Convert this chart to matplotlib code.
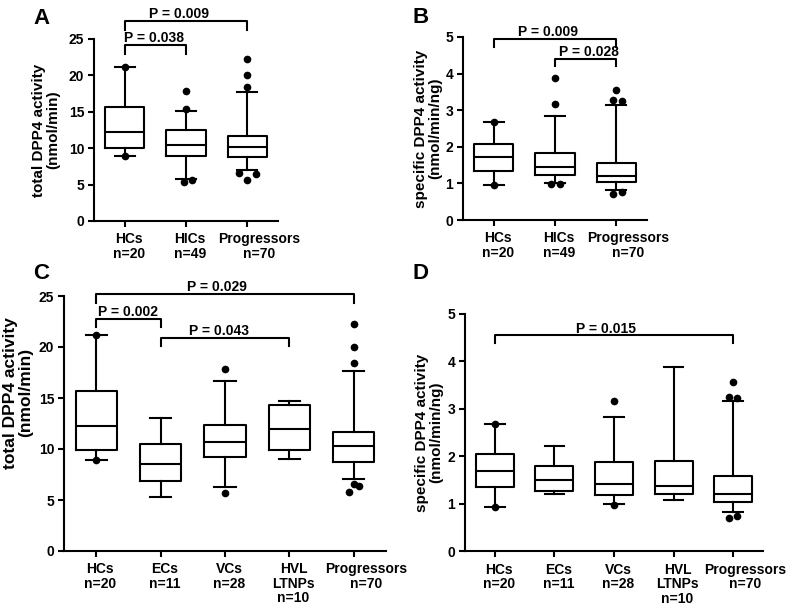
import numpy as np
import matplotlib
matplotlib.use("Agg")
import matplotlib.pyplot as plt
from matplotlib.transforms import ScaledTranslation

plt.rcParams['font.family'] = ['Liberation Sans', 'DejaVu Sans']
plt.rcParams['font.weight'] = 'bold'

# Panel A - total DPP4 activity, 3 groups
names_A = ['HCs\nn=20', 'HICs\nn=49', 'Progressors\nn=70']
q1_A = [9.98, 8.9, 8.85]
med_A = [12.2, 10.5, 10.2]
q3_A = [15.6, 12.5, 11.7]
lo_A = [8.97, 5.8, 7.0]
hi_A = [21.2, 15.1, 17.7]
fliers_A = [[21.2, 8.97], [17.8, 15.4, 5.4, 5.6], [22.3, 20.1, 18.45, 6.6, 6.4, 5.7]]
dodge_A = [[0, 0], [0, 0, -0.04, 0.1], [0, 0, 0, -0.14, 0.14, 0]]

# Panel B - specific DPP4 activity, 3 groups
names_B = ['HCs\nn=20', 'HICs\nn=49', 'Progressors\nn=70']
q1_B = [1.35, 1.23, 1.03]
med_B = [1.72, 1.46, 1.21]
q3_B = [2.07, 1.82, 1.57]
lo_B = [0.96, 1.02, 0.81]
hi_B = [2.67, 2.84, 3.15]
fliers_B = [[2.68, 0.95], [3.88, 3.17, 0.98, 0.98], [3.56, 3.27, 3.26, 0.71, 0.76]]
dodge_B = [[0, 0], [0, 0, -0.06, 0.08], [0, -0.06, 0.09, -0.06, 0.09]]

# Panel C - total DPP4 activity, 5 groups
names_C = ['HCs\nn=20', 'ECs\nn=11', 'VCs\nn=28', 'HVL\nLTNPs\nn=10', 'Progressors\nn=70']
q1_C = [9.9, 6.9, 9.25, 9.87, 8.75]
med_C = [12.25, 8.5, 10.66, 12.0, 10.26]
q3_C = [15.7, 10.5, 12.4, 14.3, 11.7]
lo_C = [8.9, 5.3, 6.3, 9.0, 7.03]
hi_C = [21.2, 13.04, 16.7, 14.7, 17.65]
fliers_C = [[21.2, 8.9], [], [17.8, 5.65], [], [22.25, 20.0, 18.4, 6.6, 6.37, 5.75]]
dodge_C = [[0, 0], [], [0, 0], [], [0, 0, 0, 0, 0.08, -0.07]]

# Panel D - specific DPP4 activity, 5 groups
names_D = names_C
q1_D = [1.35, 1.27, 1.18, 1.20, 1.04]
med_D = [1.70, 1.51, 1.42, 1.37, 1.21]
q3_D = [2.06, 1.79, 1.88, 1.90, 1.58]
lo_D = [0.94, 1.20, 0.99, 1.09, 0.83]
hi_D = [2.69, 2.23, 2.84, 3.88, 3.16]
fliers_D = [[2.69, 0.94], [], [3.16, 0.97], [], [3.56, 3.26, 3.23, 0.70, 0.75]]
dodge_D = [[0, 0], [], [0, 0], [], [0, -0.07, 0.07, -0.07, 0.07]]

# brackets: (from, to, bar height, tip height, text, text x)
brackets_A = [(1, 3, 27.5, 26.3, 'P = 0.009', 1.88), (1, 2, 24.2, 23.0, 'P = 0.038', 1.48)]
brackets_B = [(1, 3, 4.95, 4.74, 'P = 0.009', 1.88), (2, 3, 4.40, 4.20, 'P = 0.028', 2.55)]
brackets_C = [(1, 5, 25.2, 24.35, 'P = 0.029', 2.88), (1, 2, 22.75, 22.0, 'P = 0.002', 1.5),
              (2, 4, 20.9, 20.1, 'P = 0.043', 2.9)]
brackets_D = [(1, 5, 4.55, 4.39, 'P = 0.015', 2.87)]

LW = 1.5
fig = plt.figure(figsize=(7.93, 6.11), dpi=100)


def draw_panel(ax, names, q1, med, q3, lo, hi, fliers, dodge, ymax, ystep,
               ylabel, brackets, label_x, label_y=0.5, label_size=11):
    pos = np.arange(1, len(names) + 1)
    stats = []
    for i in range(len(names)):
        stats.append({'q1': q1[i], 'med': med[i], 'q3': q3[i],
                      'whislo': lo[i], 'whishi': hi[i], 'fliers': []})
    line = dict(color='black', lw=LW)
    ax.bxp(stats, positions=pos, widths=0.64, capwidths=0.33, showfliers=False,
           boxprops=line, medianprops=line, whiskerprops=line, capprops=line)
    for p, vals, offs in zip(pos, fliers, dodge):
        if vals:
            ax.plot(p + np.array(offs), vals, 'o', color='black', ms=4.5,
                    mec='black', clip_on=False)

    for x1, x2, y, tip, txt, tx in brackets:
        ax.plot([x1, x1, x2, x2], [tip, y, y, tip], color='black', lw=LW,
                clip_on=False)
        ax.annotate(txt, (tx, y), xytext=(0, 2), textcoords='offset points',
                    ha='center', va='baseline', fontsize=10, fontweight='bold',
                    annotation_clip=False)

    ax.set_xlim(0.5, len(names) + 0.5)
    ax.set_ylim(0, ymax)
    ax.set_yticks(np.arange(0, ymax + ystep / 2, ystep))
    ax.set_xticks(pos, names, linespacing=1.05)
    for sp in ['top', 'right']:
        ax.spines[sp].set_visible(False)
    for sp in ['left', 'bottom']:
        ax.spines[sp].set_linewidth(LW)
    ax.tick_params(width=LW, length=4, labelsize=10, pad=3)
    ax.tick_params(axis='x', length=4, pad=4)
    # GraphPad puts the labels a little right of the ticks
    for lab in ax.get_xticklabels():
        dx = 12 if lab.get_text().startswith('Progressors') else 4
        lab.set_transform(lab.get_transform() +
                          ScaledTranslation(dx / 100, 0, fig.dpi_scale_trans))
    for lab in ax.get_yticklabels() + ax.get_xticklabels():
        lab.set_fontweight('bold')
    ax.set_ylabel(ylabel, fontsize=label_size, fontweight='bold', linespacing=1.0)
    ax.yaxis.set_label_coords(label_x, label_y)


axA = fig.add_axes([94 / 793, 1 - 221 / 611, 184 / 793, 182 / 611])
axB = fig.add_axes([463 / 793, 1 - 220 / 611, 184 / 793, 183 / 611])
axC = fig.add_axes([64 / 793, 1 - 551 / 611, 322 / 793, 255 / 611])
axD = fig.add_axes([465 / 793, 1 - 551.4 / 611, 298 / 793, 237.4 / 611])

draw_panel(axA, names_A, q1_A, med_A, q3_A, lo_A, hi_A, fliers_A, dodge_A, 25, 5,
           'total DPP4 activity\n(nmol/min)', brackets_A, -0.185)
draw_panel(axB, names_B, q1_B, med_B, q3_B, lo_B, hi_B, fliers_B, dodge_B, 5, 1,
           'specific DPP4 activity\n(nmol/min/ng)', brackets_B, -0.114)
draw_panel(axC, names_C, q1_C, med_C, q3_C, lo_C, hi_C, fliers_C, dodge_C, 25, 5,
           'total DPP4 activity\n(nmol/min)', brackets_C, -0.096, 0.62, 12.5)
draw_panel(axD, names_D, q1_D, med_D, q3_D, lo_D, hi_D, fliers_D, dodge_D, 5, 1,
           'specific DPP4 activity\n(nmol/min/ng)', brackets_D, -0.074)

# panel letters
for letter, x, y in [('A', 33, 8), ('B', 412, 7), ('C', 33, 263), ('D', 412, 263)]:
    fig.text(x / 793, 1 - y / 611, letter, fontsize=16, fontweight='bold',
             ha='left', va='top')

fig.savefig('out.png', dpi=100)
